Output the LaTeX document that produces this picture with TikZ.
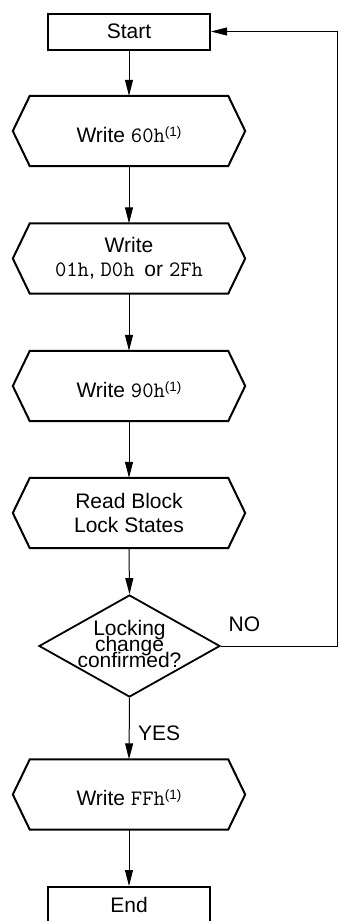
\documentclass[tikz,border=0pt]{standalone}
\usepackage{fontspec}
\setmainfont{Liberation Sans}
\usetikzlibrary{shapes.geometric}
\usetikzlibrary{arrows.meta}
\newcommand{\noteref}[1]{\raisebox{6pt}{\fontsize{13.5}{14}\selectfont #1}}
\newcommand{\code}[1]{{\fontsize{22}{24}\selectfont\texttt{#1}}}
\newcommand{\decfont}{\fontsize{21}{16}\selectfont\lineskiplimit=-30pt\relax}
\tikzset{conn/.style = {-{Triangle[length=16pt,width=8pt]}, line width=1pt}}
\tikzset{termbox/.style = {draw, line width=2pt, minimum width=162pt,
                           minimum height=36pt, inner sep=0, text depth=0pt}}
\tikzset{hexbox/.style = {minimum width=198pt, minimum height=70pt, inner sep=0,
    align=center,
    append after command={\pgfextra{\draw[line width=2pt]
      (\tikzlastnode.north west) -- (\tikzlastnode.north east)
      -- ([xshift=17pt]\tikzlastnode.east) -- (\tikzlastnode.south east)
      -- (\tikzlastnode.south west) -- ([xshift=-17pt]\tikzlastnode.west) -- cycle;}}}}
\tikzset{onerow/.style = {text height=22pt, text depth=0pt}}
\tikzset{decbox/.style = {draw, diamond, aspect=1.77, line width=1.8pt,
                          minimum width=181pt, minimum height=102pt, inner sep=0}}

\begin{document}
\begin{tikzpicture}[x=1pt, y=-1pt, font=\fontsize{21}{24}\selectfont]
    \useasboundingbox (0,0) rectangle (338,921);

    % steps
    \node [termbox] (start) at (129,31.5) {Start};
    \node [hexbox, onerow] (w60) at (129,131) {Write \code{60h}\noteref{(1)}};
    \node [hexbox] (wcmd) at (129,258.5) {Write\\\code{01h}, \code{D0h}\hspace{4pt} or \code{2Fh}};
    \node [hexbox, onerow] (w90) at (129,386) {Write \code{90h}\noteref{(1)}};
    \node [hexbox] (rdlock) at (129,513) {Read Block\\Lock States};
    \node [decbox] (dec) at (129.5,646) {};
    \node [align=center, font=\decfont] (dectext)
        at ([yshift=2.5pt]dec.center) {Locking\\change\\confirmed?};
    \node [hexbox, onerow] (wff) at (129,794.5) {Write \code{FFh}\noteref{(1)}};
    \node [termbox] (stop) at (129,905) {End};

    % labels
    \node [anchor=base west, inner sep=0] (yes) at (138,740) {YES};
    \node [anchor=base west, inner sep=0] (no) at (228.5,631) {NO};

    % connectors
    \draw[conn] (start.south) -- (w60.north);
    \draw[conn] (w60.south) -- (wcmd.north);
    \draw[conn] (wcmd.south) -- (w90.north);
    \draw[conn] (w90.south) -- (rdlock.north);
    \draw[conn] (rdlock.south) -- (dec.north);
    \draw[conn] (dec.south) -- (wff.north);
    \draw[conn] (wff.south) -- (stop.north);

    % loop back
    \coordinate (fb) at (337,0);
    \draw[conn, line width=0.8pt] (dec.east) -- (dec.east -| fb) -- (start.east -| fb) -- (start.east);
\end{tikzpicture}
\end{document}
